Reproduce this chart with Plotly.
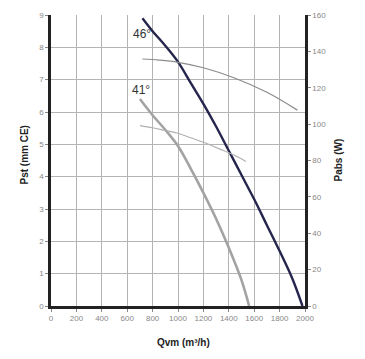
import plotly.graph_objects as go

# Pst curves (left axis, mm CE)
q46 = [720, 800, 900, 1000, 1100, 1200, 1300, 1400, 1500, 1600, 1700, 1800, 1900, 1980]
pst46 = [8.9, 8.5, 8.05, 7.55, 6.9, 6.25, 5.55, 4.8, 4.05, 3.3, 2.5, 1.7, 0.85, 0.0]

q41 = [700, 800, 900, 1000, 1100, 1200, 1300, 1400, 1500, 1560]
pst41 = [6.4, 5.9, 5.45, 4.95, 4.25, 3.5, 2.7, 1.8, 0.8, 0.0]

# Pabs curves (right axis, W)
qp46 = [720, 850, 1000, 1200, 1440, 1700, 1940]
pabs46 = [135.8, 135.2, 134, 131, 125.5, 117.5, 107.7]

qp41 = [700, 800, 900, 1000, 1100, 1200, 1340, 1440, 1535]
pabs41 = [99.2, 98, 96.5, 95, 92.5, 90, 86, 83, 79.5]

x_ticks = [0, 200, 400, 600, 800, 1000, 1200, 1400, 1600, 1800, 2000]
y_ticks = [0, 1, 2, 3, 4, 5, 6, 7, 8, 9]
y2_ticks = [0, 20, 40, 60, 80, 100, 120, 140, 160]

FONT = "Liberation Sans, Arial, sans-serif"

fig = go.Figure()
fig.add_trace(go.Scatter(x=qp46, y=pabs46, yaxis="y2", mode="lines",
                         line=dict(color="#8c8c8c", width=1.2, shape="spline"), showlegend=False))
fig.add_trace(go.Scatter(x=qp41, y=pabs41, yaxis="y2", mode="lines",
                         line=dict(color="#b0b0b0", width=1.2, shape="spline"), showlegend=False))
fig.add_trace(go.Scatter(x=q41, y=pst41, mode="lines",
                         line=dict(color="#a3a3a3", width=2.6, shape="spline"), showlegend=False))
fig.add_trace(go.Scatter(x=q46, y=pst46, mode="lines",
                         line=dict(color="#25254d", width=2.4, shape="spline"), showlegend=False))

fig.update_layout(
    width=365, height=359,
    margin=dict(l=51, r=60, t=15, b=53),
    paper_bgcolor="white", plot_bgcolor="white",
    font=dict(family=FONT, color="#333"),
    xaxis=dict(range=[0, 2000], tickvals=x_ticks, showgrid=True, gridcolor="#b4b4b4", gridwidth=1,
               showline=True, linecolor="#222", linewidth=2.5, ticks="outside", ticklen=3,
               tickcolor="#888", tickfont=dict(size=8, color="#888"), zeroline=False),
    yaxis=dict(range=[0, 9], tickvals=y_ticks, showgrid=True, gridcolor="#b4b4b4", gridwidth=1,
               showline=True, linecolor="#222", linewidth=2.5, ticks="outside", ticklen=3,
               tickcolor="#888", tickfont=dict(size=8, color="#888"), zeroline=False),
    yaxis2=dict(range=[0, 160], tickvals=y2_ticks, overlaying="y", side="right", showgrid=False,
                showline=True, linecolor="#222", linewidth=2.5, ticks="outside", ticklen=3,
                tickcolor="#888", tickfont=dict(size=8, color="#888"), zeroline=False),
    annotations=[
        dict(x=717, y=8.4, xref="x", yref="y", text="46°", showarrow=False,
             font=dict(size=12, color="#333")),
        dict(x=709, y=6.68, xref="x", yref="y", text="41°", showarrow=False,
             font=dict(size=12, color="#333")),
        dict(x=183, y=350, text="<b>Qvm (m³/h)</b>", showarrow=False,
             font=dict(size=10, color="#222")),
        dict(x=16, y=155, text="<b>Pst (mm CE)</b>", showarrow=False, textangle=-90,
             font=dict(size=10, color="#222")),
        dict(x=345, y=160, text="<b>Pabs (W)</b>", showarrow=False, textangle=-90,
             font=dict(size=10, color="#222")),
    ],
)

# convert pixel-positioned title annotations to paper coords
pw, ph = 365 - 51 - 60, 359 - 15 - 53
for a in fig.layout.annotations[2:]:
    px, py = a.x, a.y
    a.xref = "paper"; a.yref = "paper"
    a.x = (px - 51) / pw
    a.y = 1 - (py - 15) / ph

fig.write_html("out.html", config={"displayModeBar": False},
               post_script="document.body.style.margin='0';")
